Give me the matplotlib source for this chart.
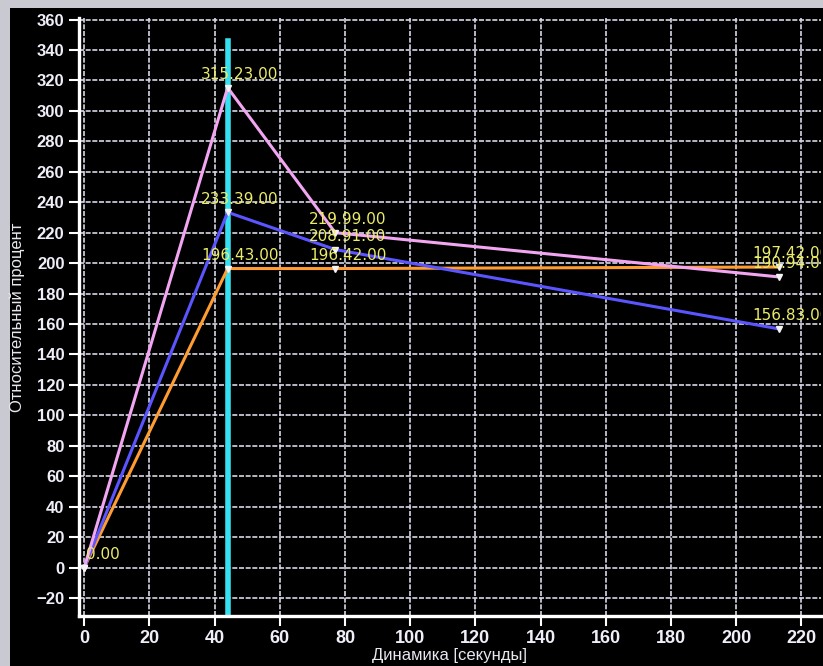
#!/usr/bin/env python3
"""
Dynamics chart - relative percent over time (dark screen style)
"""

import matplotlib.pyplot as plt
from matplotlib.patches import Rectangle

# data
times = [0, 44, 77, 213]
pink = [0, 315.23, 219.99, 190.94]
blue = [0, 233.39, 208.91, 156.83]
orange = [0, 196.43, 196.42, 197.42]

pink_labels = ['0.00', '315.23.00', '219.99.00', '190.94.00']
blue_labels = ['', '233.39.00', '208.91.00', '156.83.00']
orange_labels = ['', '196.43.00', '196.42.00', '197.42.00']

cursor_x = 44
cursor_top = 346

x_ticks = list(range(0, 221, 20))
y_ticks = list(range(-20, 361, 20))

fig = plt.figure(figsize=(8.23, 6.66), dpi=100, facecolor='black')
# light border of the photo along the top and left edge
fig.patches.append(Rectangle((0, 1 - 8 / 666), 1, 8 / 666, transform=fig.transFigure,
                             facecolor='#c9c9d2', edgecolor='none'))
fig.patches.append(Rectangle((0, 0), 10 / 823, 1, transform=fig.transFigure,
                             facecolor='#c9c9d2', edgecolor='none'))

ax = fig.add_axes([79 / 823, 1 - 616 / 666, (821 - 79) / 823, (616 - 18) / 666])
ax.set_zorder(2)
ax.set_facecolor('black')

ax.set_xlim(-1.6, 226)
ax.set_ylim(-31.8, 361)

ax.set_xticks(x_ticks)
ax.set_yticks(y_ticks)
ax.grid(True, color='#d8d8e6', linestyle=(0, (3, 1)), linewidth=1.2)
ax.set_axisbelow(True)

for side in ['top', 'right']:
    ax.spines[side].set_visible(False)
for side in ['left', 'bottom']:
    ax.spines[side].set_color('white')
    ax.spines[side].set_linewidth(2.4)

ax.tick_params(colors='white', direction='out', length=7, width=1.5)
ax.tick_params(axis='x', pad=3)
for lab in ax.get_yticklabels():
    lab.set_fontfamily('Liberation Sans')
    lab.set_fontweight('bold')
    lab.set_fontsize(12)
    lab.set_color('#f0eef8')
for lab in ax.get_xticklabels():
    lab.set_fontfamily('Liberation Sans')
    lab.set_fontweight('bold')
    lab.set_fontsize(13)
    lab.set_color('#f0eef8')

ax.plot([cursor_x, cursor_x], [-40, cursor_top], color='#36e0f0', linewidth=4, zorder=2)

series = [(orange, orange_labels, '#ff9c32'),
          (blue, blue_labels, '#5a55ff'),
          (pink, pink_labels, '#f2a6f2')]
for vals, labels, color in series:
    ax.plot(times, vals, color=color, linewidth=2.2, zorder=3)
    ax.plot(times, vals, linestyle='none', marker='v', markersize=5,
            color='#f4f4f4', zorder=4)
    for x, y, txt in zip(times, vals, labels):
        if not txt:
            continue
        dx = 1 if x == 0 else -19
        ax.annotate(txt, (x, y), xytext=(dx, 4), textcoords='offset points',
                    ha='left', va='bottom', color='#ecec6a', fontsize=11,
                    family='DejaVu Sans', clip_on=True, zorder=5)

ax.set_xlabel('Динамика [секунды]', color='#e8e8f0', fontsize=12,
              family='Liberation Sans', labelpad=1)
ax.set_ylabel('Относительный процент', color='#e8e8f0', fontsize=12,
              family='Liberation Sans', labelpad=8)

plt.savefig('out.png', dpi=100, facecolor=fig.get_facecolor())
print("Chart saved to out.png")
